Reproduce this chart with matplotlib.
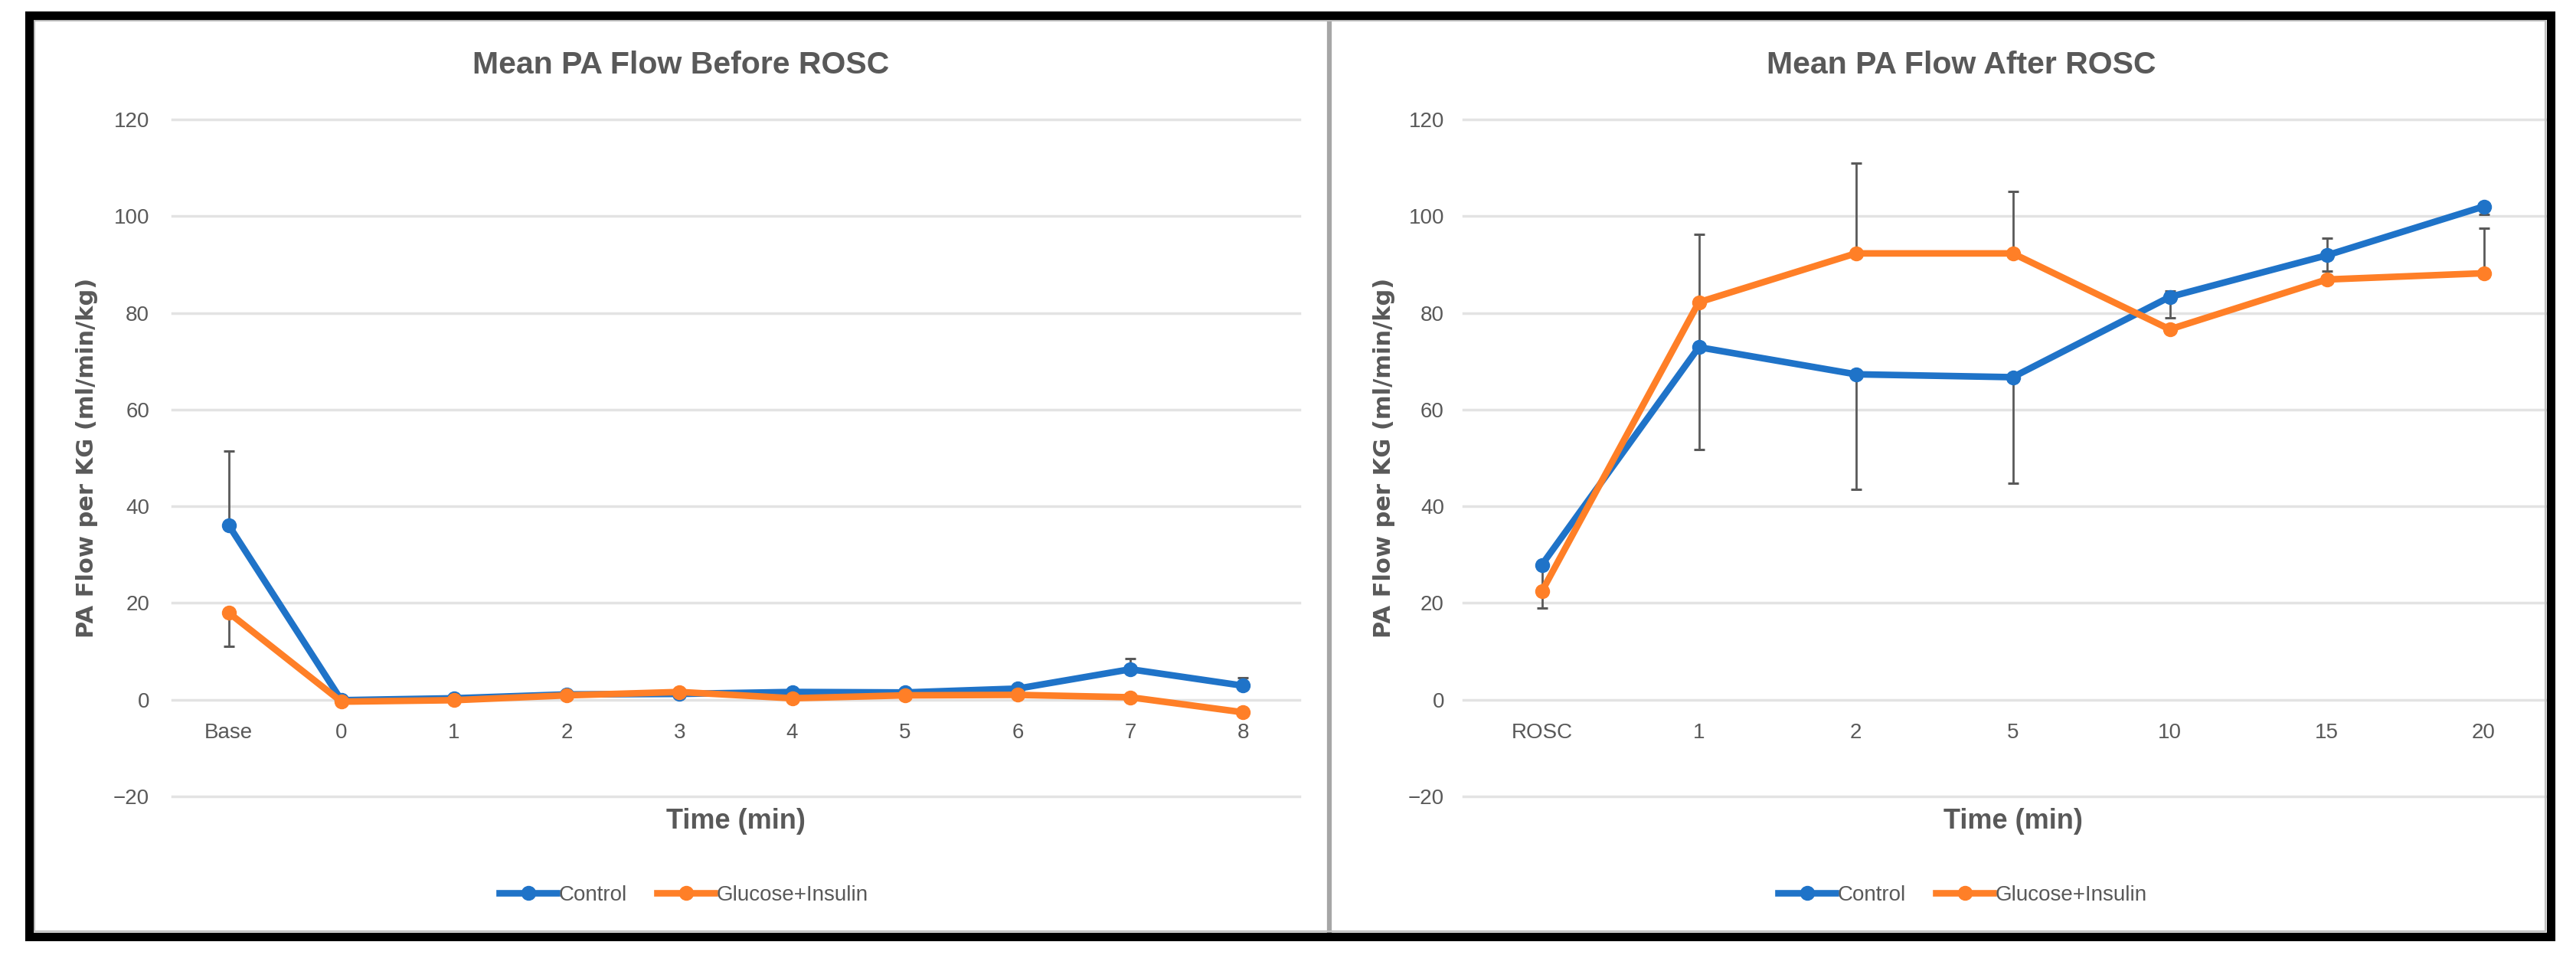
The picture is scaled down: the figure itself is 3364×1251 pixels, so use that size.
import matplotlib
matplotlib.use('Agg')
import matplotlib.pyplot as plt
from matplotlib.patches import Rectangle
from matplotlib.lines import Line2D
import numpy as np

# ---------------- data ----------------
before_labels = ['Base', '0', '1', '2', '3', '4', '5', '6', '7', '8']
before_control = [36.1, -0.1, 0.3, 1.1, 1.2, 1.6, 1.5, 2.3, 6.3, 2.9]
before_gi = [18.0, -0.4, -0.1, 0.9, 1.6, 0.3, 0.9, 1.0, 0.5, -2.6]
before_control_err_lo = [0, 0, 0, 0, 0, 0, 0, 0, 0, 0]
before_control_err_hi = [15.3, 0, 0, 0, 0, 0, 0, 0, 2.2, 1.7]
before_gi_err_lo = [7.0, 0, 0, 0, 0, 0, 0, 0, 0, 0]
before_gi_err_hi = [0, 0, 0, 0, 0, 0, 0, 0, 0, 0]

after_labels = ['ROSC', '1', '2', '5', '10', '15', '20']
after_control = [27.9, 72.9, 67.3, 66.7, 83.3, 91.9, 102.0]
after_gi = [22.4, 82.2, 92.3, 92.3, 76.6, 86.9, 88.2]
after_control_err_lo = [9.0, 21.2, 23.8, 21.9, 4.3, 3.2, 1.6]
after_control_err_hi = [0, 9.3, 0, 0, 1.2, 3.6, 0]
after_gi_err_lo = [0, 0, 0, 0, 0, 0, 0]
after_gi_err_hi = [0, 14.1, 18.7, 12.8, 0, 0, 9.3]

yticks = [-20, 0, 20, 40, 60, 80, 100, 120]
series_names = ['Control', 'Glucose+Insulin']

# ---------------- style ----------------
W, H = 3364, 1251
BODY = ['Liberation Sans', 'DejaVu Sans']
plt.rcParams['font.family'] = BODY
TXT = '#595959'
BLUE = '#1F73C8'
ORANGE = '#FF7F27'
ERR = '#595959'
GRID = '#E3E3E3'
LW = 6.2
MS = 13

fig = plt.figure(figsize=(W / 100, H / 100), dpi=100)
fig.patch.set_facecolor('white')


def px(x0, y0, x1, y1):
    return [x0 / W, 1 - y1 / H, (x1 - x0) / W, (y1 - y0) / H]


def panel(rect, labels, ctrl, gi, c_lo, c_hi, g_lo, g_hi, title, title_x,
          legend_x, ylabel_dx, ypad):
    ax = fig.add_axes(rect)
    ax.patch.set_alpha(0)
    n = len(labels)
    x = np.arange(n)
    ax.set_xlim(-0.5, n - 0.5)
    ax.set_ylim(-20, 120)
    for v in yticks:
        ax.axhline(v, color=GRID, lw=2.5, zorder=1, clip_on=False)
    ax.errorbar(x, ctrl, yerr=[c_lo, c_hi], fmt='none', ecolor=ERR,
                elinewidth=2, capsize=4.8, capthick=2.2, zorder=2.5)
    ax.plot(x, ctrl, '-o', color=BLUE, lw=LW, ms=MS, zorder=3)
    ax.errorbar(x, gi, yerr=[g_lo, g_hi], fmt='none', ecolor=ERR,
                elinewidth=2, capsize=4.8, capthick=2.2, zorder=3.5)
    ax.plot(x, gi, '-o', color=ORANGE, lw=LW, ms=MS, zorder=4)
    for s in ax.spines.values():
        s.set_visible(False)
    ax.spines['bottom'].set_position(('data', 0))
    ax.set_xticks(x)
    ax.set_xticklabels(labels)
    ax.set_yticks(yticks)
    ax.tick_params(length=0, labelsize=20, labelcolor=TXT)
    ax.tick_params(axis='x', pad=22)
    ax.tick_params(axis='y', pad=ypad)
    ax.text(0.5, (1040 - 1073) / 884, 'Time (min)', transform=ax.transAxes,
            ha='center', va='center', fontsize=26, fontweight='bold', color=TXT)
    ax.text(ylabel_dx, 0.5, 'PA Flow per KG (ml/min/kg)', transform=ax.transAxes,
            rotation=90, ha='center', va='center', fontsize=22,
            fontweight='bold', color=TXT, family='DejaVu Sans')
    fig.text(title_x / W, 1 - 85 / H, title, ha='center', va='center',
             fontsize=29.5, fontweight='bold', color=TXT)
    handles = [Line2D([], [], color=BLUE, lw=LW, marker='o', ms=MS),
               Line2D([], [], color=ORANGE, lw=LW, marker='o', ms=MS)]
    fig.legend(handles, series_names, loc='center',
               bbox_to_anchor=(legend_x / W, 1 - 1169 / H), ncol=2,
               frameon=False, prop={'family': BODY, 'size': 20},
               labelcolor=TXT, handlelength=2.7, handletextpad=0.1,
               columnspacing=1.4, borderpad=0, borderaxespad=0)
    return ax


panel(px(225, 156, 1697, 1040), before_labels, before_control, before_gi,
      before_control_err_lo, before_control_err_hi, before_gi_err_lo,
      before_gi_err_hi, 'Mean PA Flow Before ROSC', 889, 893,
      (114 - 225) / 1472, 21.6)
panel(px(1911, 156, 3346, 1040), after_labels, after_control, after_gi,
      after_control_err_lo, after_control_err_hi, after_gi_err_lo,
      after_gi_err_hi, 'Mean PA Flow After ROSC', 2561, 2563,
      (1808 - 1911) / 1435, 18)

# white mask beyond the right frame
fig.add_artist(Rectangle((3331 / W, 0), 1, 1, transform=fig.transFigure,
                         facecolor='white', edgecolor='none', zorder=9))
# gray divider between the two charts
fig.add_artist(Line2D([1736 / W, 1736 / W], [1 - 1223 / H, 1 - 20 / H],
                      transform=fig.transFigure, color='#A6A6A6', lw=4.5,
                      zorder=9))
# thin inner chart frame lines
fig.add_artist(Rectangle((45 / W, 1 - 1216 / H), (3324 - 45) / W,
                         (1216 - 27) / H, transform=fig.transFigure,
                         fill=False, edgecolor='#BFBFBF', lw=1.5, zorder=9))
# black outer frame
fig.add_artist(Rectangle((38 / W, 1 - 1223 / H), (3331 - 38) / W,
                         (1223 - 20) / H, transform=fig.transFigure,
                         fill=False, edgecolor='black', lw=8, zorder=10))

fig.savefig('out.png', dpi=100, facecolor='white')
